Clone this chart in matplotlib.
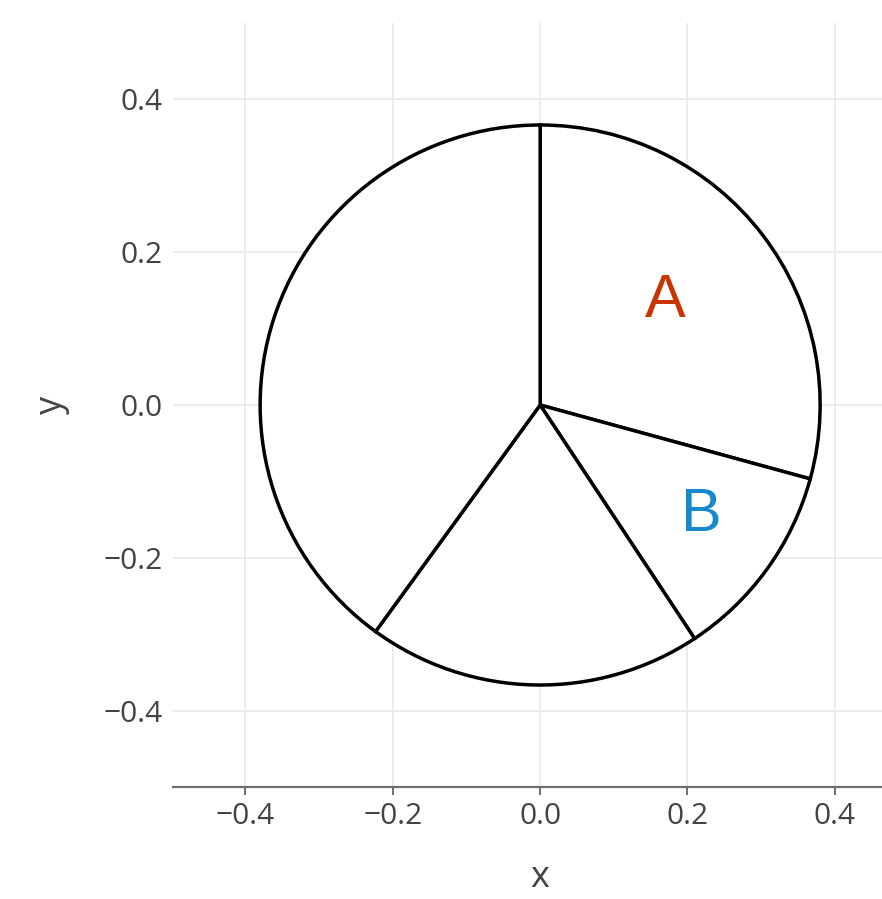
import matplotlib
matplotlib.use("Agg")
import matplotlib.pyplot as plt
from matplotlib.transforms import Affine2D, blended_transform_factory

# slice shares, clockwise from 12 o'clock
shares = [29.25, 11.45, 19.3, 40.0]
pie_radius = 0.3665

# text labels inside the first two slices
label_text = ["A", "B"]
label_x = [0.170, 0.219]
label_y = [0.135, -0.145]
label_color = ["#c93300", "#1689cc"]

ticks = [-0.4, -0.2, 0.0, 0.2, 0.4]
xlim = (-0.499, 0.464)
ylim = (-0.5, 0.5)

W, H = 882, 899
fig = plt.figure(figsize=(W / 100, H / 100), dpi=100)
ax_l, ax_r, ax_t, ax_b = 172.5, 882, 23, 787
ax = fig.add_axes([ax_l / W, 1 - ax_b / H, (ax_r - ax_l) / W, (ax_b - ax_t) / H])

wedges, _ = ax.pie(shares, radius=pie_radius, center=(0, 0), startangle=90,
                   counterclock=False, frame=True,
                   wedgeprops=dict(facecolor="white", edgecolor="black", linewidth=2.5))
ax.set_aspect("auto")
ax.set_xlim(*xlim)
ax.set_ylim(*ylim)

# x and y units are not the same length on screen, keep the pie round
px_x = (ax_r - ax_l) / (xlim[1] - xlim[0])
px_y = (ax_b - ax_t) / (ylim[1] - ylim[0])
stretch = Affine2D().scale(px_y / px_x, 1.0)
for w in wedges:
    w.set_transform(stretch + ax.transData)

for t, x, y, c in zip(label_text, label_x, label_y, label_color):
    ax.text(x, y, t, color=c, fontsize=44, family="Liberation Sans",
            ha="center", va="center")

ax.set_xticks(ticks)
ax.set_yticks(ticks)
ax.set_xticklabels([f"{t:.1f}".replace("-", "\u2212") for t in ticks])
ax.set_yticklabels([f"{t:.1f}".replace("-", "\u2212") for t in ticks])
ax.grid(True, color="#ebebeb", linewidth=1.3)
ax.set_axisbelow(True)
for s in ["top", "right", "left"]:
    ax.spines[s].set_visible(False)
ax.spines["bottom"].set_color("#6e6e6e")
ax.spines["bottom"].set_linewidth(1.6)
ax.tick_params(axis="x", length=5.8, width=1.4, color="#6e6e6e", pad=5,
               labelsize=21.5, labelcolor="#444444")
ax.tick_params(axis="y", length=0, pad=7, labelsize=21.5, labelcolor="#444444")
for lab in ax.get_xticklabels() + ax.get_yticklabels():
    lab.set_family("Open Sans")

ax.set_xlabel("x", fontsize=26, color="#444444", family="Open Sans", va="center")
ax.set_ylabel("y", fontsize=26, color="#444444", family="Open Sans", labelpad=24)
# the x title sits under x = 0 (the plot area runs past the right edge)
ax.xaxis.set_label_coords(0.0, -0.119,
                          transform=blended_transform_factory(ax.transData, ax.transAxes))

fig.savefig("out.png", dpi=100, facecolor="white")
